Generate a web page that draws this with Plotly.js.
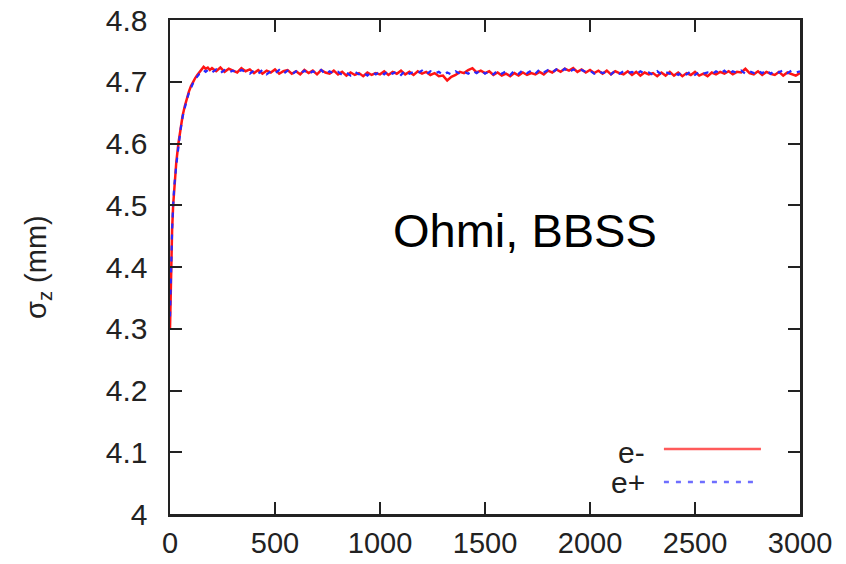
<!DOCTYPE html>
<html>
<head>
<meta charset="utf-8">
<script src="https://cdn.plot.ly/plotly-3.0.1.min.js"></script>
<style>
  html, body { margin: 0; padding: 0; background: #fff; }
  #plot { width: 846px; height: 564px; }
</style>
</head>
<body>
<div id="plot"></div>
<script>
// Bunch length evolution over the first 3000 turns (beam-beam strong-strong run)

// turns sampled during the initial growth
const riseTurns = [0, 5, 10, 15, 20, 30, 40, 50, 60, 70, 80, 90, 100, 110, 120, 130, 140, 150, 160, 170, 180, 190];
// plateau sampling every 20 turns from 200 to 3000
const plateauTurns = Array.from({length: 141}, (_, i) => 200 + 20 * i);
const turns = riseTurns.concat(plateauTurns);

// sigma_z (mm), electron beam
const sigmaElectron = [
  4.30, 4.40, 4.46, 4.50, 4.53, 4.57, 4.60, 4.625, 4.645, 4.66, 4.673,
  4.684, 4.693, 4.700, 4.706, 4.711, 4.716, 4.720, 4.724, 4.721, 4.723, 4.719,
  4.722, 4.717, 4.723, 4.716, 4.721, 4.718, 4.715, 4.722, 4.717, 4.720,
  4.714, 4.719, 4.713, 4.718, 4.715, 4.720, 4.713, 4.717, 4.719, 4.713,
  4.717, 4.712, 4.719, 4.714, 4.718, 4.712, 4.719, 4.715, 4.713, 4.718,
  4.712, 4.716, 4.710, 4.715, 4.711, 4.714, 4.709, 4.715, 4.711, 4.714,
  4.712, 4.717, 4.711, 4.716, 4.713, 4.718, 4.712, 4.716, 4.711, 4.717,
  4.713, 4.716, 4.711, 4.714, 4.709, 4.710, 4.702, 4.708, 4.711, 4.716,
  4.714, 4.719, 4.722, 4.715, 4.718, 4.714, 4.717, 4.711, 4.715, 4.710,
  4.713, 4.709, 4.714, 4.710, 4.715, 4.711, 4.714, 4.712, 4.716, 4.712,
  4.718, 4.715, 4.720, 4.716, 4.721, 4.718, 4.722, 4.716, 4.720, 4.715,
  4.719, 4.714, 4.718, 4.713, 4.718, 4.712, 4.717, 4.714, 4.712, 4.717,
  4.711, 4.716, 4.710, 4.715, 4.712, 4.714, 4.709, 4.715, 4.710, 4.716,
  4.710, 4.715, 4.709, 4.714, 4.711, 4.716, 4.710, 4.713, 4.709, 4.715,
  4.712, 4.716, 4.713, 4.717, 4.712, 4.716, 4.715, 4.721, 4.714, 4.712,
  4.717, 4.711, 4.716, 4.713, 4.711, 4.716, 4.710, 4.715, 4.712, 4.710,
  4.714
];

// sigma_z (mm), positron beam
const sigmaPositron = [
  4.32, 4.41, 4.46, 4.50, 4.53, 4.565, 4.598, 4.622, 4.643, 4.658, 4.671,
  4.682, 4.691, 4.698, 4.704, 4.709, 4.713, 4.716, 4.719, 4.716, 4.719, 4.715,
  4.715, 4.720, 4.714, 4.719, 4.715, 4.718, 4.714, 4.719, 4.716, 4.713,
  4.718, 4.713, 4.719, 4.712, 4.717, 4.714, 4.719, 4.713, 4.718, 4.712,
  4.717, 4.713, 4.718, 4.712, 4.717, 4.714, 4.719, 4.712, 4.717, 4.713,
  4.716, 4.711, 4.715, 4.710, 4.716, 4.712, 4.715, 4.710, 4.716, 4.712,
  4.717, 4.712, 4.718, 4.713, 4.717, 4.711, 4.718, 4.713, 4.716, 4.714,
  4.718, 4.712, 4.717, 4.713, 4.716, 4.711, 4.715, 4.712, 4.717, 4.713,
  4.716, 4.713, 4.718, 4.714, 4.719, 4.713, 4.717, 4.712, 4.718, 4.713,
  4.717, 4.711, 4.718, 4.713, 4.719, 4.714, 4.718, 4.713, 4.720, 4.715,
  4.719, 4.715, 4.720, 4.716, 4.721, 4.715, 4.720, 4.717, 4.719, 4.716,
  4.718, 4.713, 4.717, 4.714, 4.716, 4.712, 4.718, 4.713, 4.717, 4.714,
  4.716, 4.712, 4.717, 4.713, 4.715, 4.711, 4.717, 4.712, 4.716, 4.713,
  4.715, 4.711, 4.716, 4.712, 4.717, 4.711, 4.716, 4.713, 4.715, 4.712,
  4.717, 4.713, 4.718, 4.712, 4.717, 4.714, 4.718, 4.713, 4.717, 4.714,
  4.718, 4.714, 4.719, 4.713, 4.718, 4.715, 4.719, 4.714, 4.718, 4.715,
  4.717
];

const xTicks = [0, 500, 1000, 1500, 2000, 2500, 3000];
const yTicks = [4, 4.1, 4.2, 4.3, 4.4, 4.5, 4.6, 4.7, 4.8];
const yTickText = ['4', '4.1', '4.2', '4.3', '4.4', '4.5', '4.6', '4.7', '4.8'];
const seriesNames = ['e-', 'e+'];

const RED = 'rgb(255,20,20)';
const BLUE = 'rgb(40,40,255)';
const FONT = 'Liberation Sans, Arial, Helvetica, sans-serif';
const INK = '#222';

const traces = [
  {
    x: turns, y: sigmaElectron, name: seriesNames[0],
    type: 'scatter', mode: 'lines',
    line: {color: RED, width: 2.5}
  },
  {
    x: turns, y: sigmaPositron, name: seriesNames[1],
    type: 'scatter', mode: 'lines',
    line: {color: BLUE, width: 2.2, dash: '5px,6px'}
  }
];

const axisCommon = {
  showline: true, linecolor: INK, linewidth: 2.5,
  mirror: 'ticks', ticks: 'inside', ticklen: 12, tickwidth: 2, tickcolor: INK,
  showgrid: false, zeroline: false,
  tickfont: {family: FONT, size: 30, color: INK}
};

const layout = {
  width: 846, height: 564,
  margin: {l: 170, r: 46, t: 20, b: 50},
  paper_bgcolor: '#fff', plot_bgcolor: '#fff',
  showlegend: false,
  xaxis: Object.assign({}, axisCommon, {
    range: [0, 3000], tickmode: 'array', tickvals: xTicks,
    ticklabelstandoff: 2,
    tickfont: {family: FONT, size: 29, color: INK}
  }),
  yaxis: Object.assign({}, axisCommon, {
    range: [4, 4.8], tickmode: 'array', tickvals: yTicks, ticktext: yTickText,
    ticklabelstandoff: 14
  }),
  annotations: [
    {
      text: 'Ohmi, BBSS', xref: 'paper', yref: 'paper',
      x: 0.5635, y: 0.573, xanchor: 'center', yanchor: 'middle',
      showarrow: false, font: {family: FONT, size: 47, color: '#000'}
    },
    {
      text: 'σ<sub>z</sub> (mm)', xref: 'paper', yref: 'paper',
      x: -0.2095, y: 0.50, xanchor: 'center', yanchor: 'middle', textangle: -90,
      showarrow: false, font: {family: FONT, size: 29, color: INK}
    },
    {
      text: seriesNames[0], xref: 'paper', yref: 'paper',
      x: 0.757, y: 0.125, xanchor: 'right', yanchor: 'middle',
      showarrow: false, font: {family: FONT, size: 30, color: INK}
    },
    {
      text: seriesNames[1], xref: 'paper', yref: 'paper',
      x: 0.757, y: 0.063, xanchor: 'right', yanchor: 'middle',
      showarrow: false, font: {family: FONT, size: 30, color: INK}
    }
  ],
  shapes: [
    // legend key samples
    {type: 'line', xref: 'paper', yref: 'paper', x0: 0.784, x1: 0.938, y0: 0.1316, y1: 0.1316,
     line: {color: 'rgb(255,90,90)', width: 2.5}},
    {type: 'line', xref: 'paper', yref: 'paper', x0: 0.784, x1: 0.929, y0: 0.0648, y1: 0.0648,
     line: {color: 'rgb(110,110,255)', width: 2.5, dash: '5px,7px'}}
  ]
};

Plotly.newPlot('plot', traces, layout, {displayModeBar: false, staticPlot: true});
</script>
</body>
</html>
